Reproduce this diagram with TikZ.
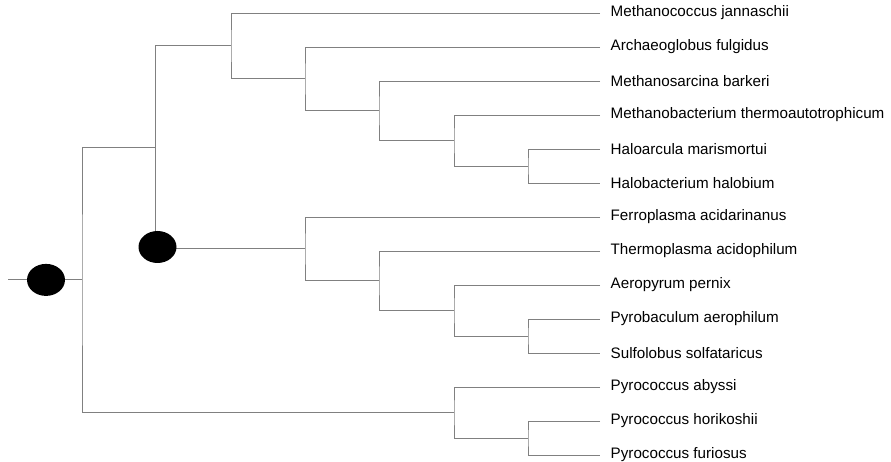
\documentclass[tikz,border=0pt]{standalone}
\usepackage{fontspec}
\setmainfont{Liberation Sans}
\usetikzlibrary{shapes.geometric}
\begin{document}
\begin{tikzpicture}[x=1pt,y=-1pt,
  leaf/.style={anchor=west,inner xsep=10.5pt,inner ysep=0pt,font=\fontsize{15.2}{17}\selectfont},
  br/.style={draw=gray,line width=0.8pt},
  blob/.style={ellipse,fill=black,minimum width=38pt,minimum height=32pt,inner sep=0pt}]
\useasboundingbox (0,0) rectangle (891,462);
% leaves
\node[leaf] (l1) at (600,13) {Methanococcus jannaschii};
\node[leaf] (l2) at (600,47) {Archaeoglobus fulgidus};
\node[leaf] (l3) at (600,81) {Methanosarcina barkeri};
\node[leaf] (l4) at (600,115) {Methanobacterium thermoautotrophicum};
\node[leaf] (l5) at (600,149) {Haloarcula marismortui};
\node[leaf] (l6) at (600,183) {Halobacterium halobium};
\node[leaf] (l7) at (600,217) {Ferroplasma acidarinanus};
\node[leaf] (l8) at (600,251) {Thermoplasma acidophilum};
\node[leaf] (l9) at (600,285) {Aeropyrum pernix};
\node[leaf] (l10) at (600,319) {Pyrobaculum aerophilum};
\node[leaf] (l11) at (600,353) {Sulfolobus solfataricus};
\node[leaf] (l12) at (600,387) {Pyrococcus abyssi};
\node[leaf] (l13) at (600,421) {Pyrococcus horikoshii};
\node[leaf] (l14) at (600,455) {Pyrococcus furiosus};
% internal nodes
\coordinate (a5) at (528,166);
\coordinate (a4) at (454,140.5);
\coordinate (a3) at (379,110.75);
\coordinate (a2) at (305,78.9);
\coordinate (a1) at (231,45.9);
\coordinate (b4) at (528,336);
\coordinate (b3) at (454,310.5);
\coordinate (b2) at (379,280.75);
\coordinate (b1) at (305,248.9);
\coordinate (arch) at (155,147.4);
\coordinate (p2) at (528,438);
\coordinate (p1) at (454,412.5);
\coordinate (root) at (82,279.9);
\coordinate (start) at (8,279.9);
% branches
\draw[br] (l5.west) -| (a5) |- (l6.west);
\draw[br] (l4.west) -| (a4) |- (a5);
\draw[br] (l3.west) -| (a3) |- (a4);
\draw[br] (l2.west) -| (a2) |- (a3);
\draw[br] (l1.west) -| (a1) |- (a2);
\draw[br] (l10.west) -| (b4) |- (l11.west);
\draw[br] (l9.west) -| (b3) |- (b4);
\draw[br] (l8.west) -| (b2) |- (b3);
\draw[br] (l7.west) -| (b1) |- (b2);
\draw[br] (a1) -| (arch |- b1) -- (b1);
\draw[br] (l13.west) -| (p2) |- (l14.west);
\draw[br] (l12.west) -| (p1) |- (p2);
\draw[br] (arch) -| (root) |- (p1);
\draw[br] (start) -- (root);
% blobs
\node[blob] (e1) at (46,279.9) {};
\node[blob] (e2) at (157.5,247) {};
\end{tikzpicture}
\end{document}
